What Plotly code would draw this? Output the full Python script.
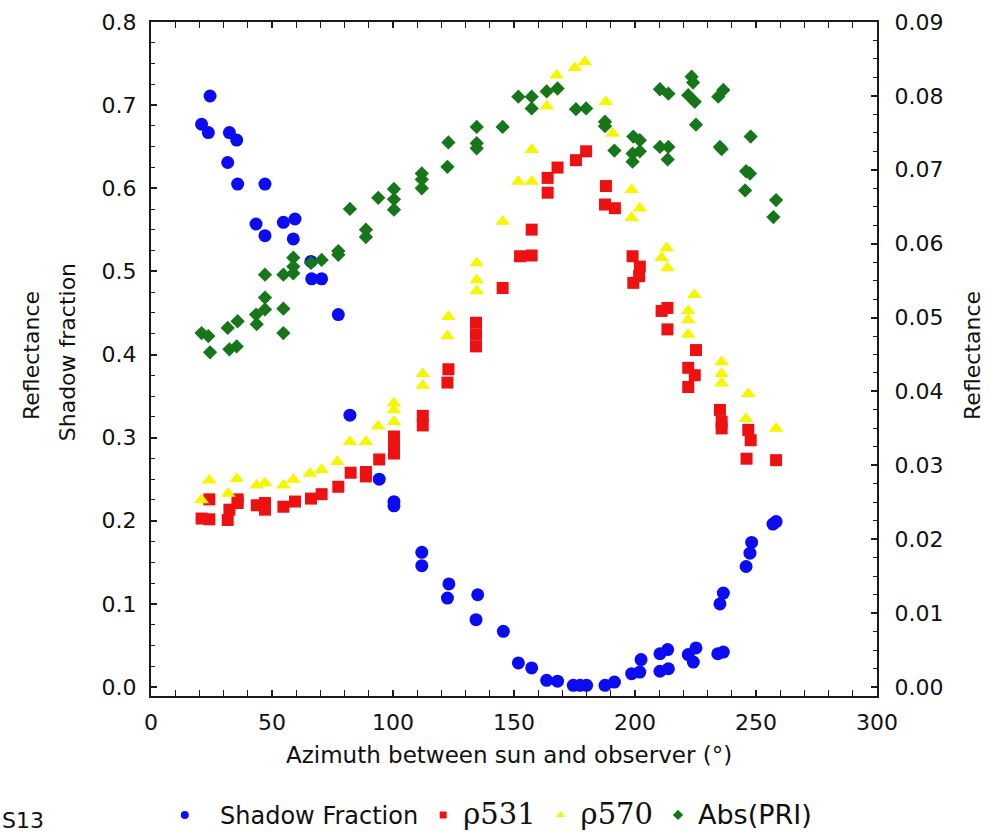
import plotly.graph_objects as go

# Shadow fraction (left axis) vs. sun-observer azimuth
shadow_az = [20.9, 23.7, 24.4, 31.7, 32.4, 35.4, 35.8, 43.4, 47.1, 47.1,
             54.7, 58.8, 59.5, 66.1, 66.4, 70.5, 77.4, 82.2, 94.3, 100.4,
             100.4, 111.9, 111.9, 122.5, 123.1, 134.3, 135.0, 145.6, 151.8, 157.3,
             163.5, 168.0, 174.5, 177.3, 180.0, 187.6, 191.5, 198.6, 202.0, 202.5,
             210.3, 210.3, 213.5, 213.8, 222.0, 224.1, 225.2, 234.2, 235.1, 236.5,
             236.5, 245.9, 247.5, 248.2, 257.0, 258.3]
shadow_frac = [0.677, 0.667, 0.711, 0.631, 0.667, 0.658, 0.605, 0.557, 0.605, 0.543,
               0.559, 0.539, 0.563, 0.512, 0.491, 0.491, 0.448, 0.327, 0.250, 0.223,
               0.218, 0.162, 0.146, 0.107, 0.124, 0.081, 0.111, 0.067, 0.029, 0.023,
               0.008, 0.007, 0.002, 0.002, 0.002, 0.002, 0.006, 0.016, 0.018, 0.033,
               0.019, 0.040, 0.045, 0.022, 0.039, 0.030, 0.047, 0.040, 0.100, 0.042,
               0.113, 0.145, 0.161, 0.174, 0.196, 0.199]

# Reflectance at 531 nm (right axis)
r531_az = [20.9, 24.1, 24.1, 31.7, 32.4, 35.8, 35.8, 43.7, 47.1, 47.1,
           54.7, 59.5, 66.1, 70.5, 77.4, 82.5, 88.8, 88.8, 94.3, 100.4,
           100.4, 100.4, 112.3, 112.3, 122.5, 122.9, 134.3, 134.3, 134.3, 145.3,
           152.5, 157.3, 157.3, 163.9, 163.9, 168.0, 175.6, 179.8, 187.6, 188.0,
           191.7, 199.0, 199.3, 201.7, 202.0, 211.0, 213.4, 213.4, 222.0, 222.0,
           224.7, 225.2, 235.1, 235.8, 235.8, 246.1, 246.8, 247.8, 258.3]
r531 = [0.0228, 0.0227, 0.0254, 0.0226, 0.0240, 0.0249, 0.0254, 0.0246, 0.0249, 0.0240,
        0.0244, 0.0251, 0.0255, 0.0261, 0.0271, 0.0290, 0.0291, 0.0285, 0.0308, 0.0339,
        0.0327, 0.0316, 0.0367, 0.0354, 0.0412, 0.0430, 0.0493, 0.0477, 0.0461, 0.0540,
        0.0583, 0.0584, 0.0619, 0.0689, 0.0669, 0.0703, 0.0713, 0.0725, 0.0653, 0.0678,
        0.0648, 0.0583, 0.0547, 0.0556, 0.0569, 0.0509, 0.0513, 0.0484, 0.0432, 0.0406,
        0.0422, 0.0456, 0.0375, 0.0359, 0.0350, 0.0309, 0.0348, 0.0334, 0.0307]

# Reflectance at 570 nm (right axis)
r570_az = [20.9, 24.1, 31.9, 35.4, 43.7, 47.1, 54.7, 58.8, 65.7, 70.5,
           77.0, 82.2, 88.8, 93.9, 100.4, 100.4, 100.4, 112.3, 112.3, 122.5,
           122.9, 134.6, 134.6, 134.6, 145.3, 151.8, 157.3, 157.3, 163.5, 163.5,
           167.6, 175.2, 179.3, 187.6, 188.0, 190.8, 198.6, 198.6, 202.0, 211.0,
           213.1, 213.4, 222.0, 222.0, 222.0, 224.5, 235.8, 235.8, 235.8, 245.9,
           246.8, 258.3]
r570 = [0.0253, 0.0280, 0.0262, 0.0282, 0.0273, 0.0276, 0.0273, 0.0281, 0.0289, 0.0294,
        0.0305, 0.0332, 0.0332, 0.0353, 0.0384, 0.0375, 0.0359, 0.0424, 0.0408, 0.0475,
        0.0501, 0.0574, 0.0551, 0.0536, 0.0630, 0.0684, 0.0684, 0.0727, 0.0786, 0.0808,
        0.0828, 0.0838, 0.0846, 0.0763, 0.0792, 0.0749, 0.0673, 0.0635, 0.0648, 0.0581,
        0.0594, 0.0567, 0.0509, 0.0497, 0.0477, 0.0531, 0.0440, 0.0424, 0.0411, 0.0363,
        0.0397, 0.0350]

# Absolute PRI (right axis)
pri_az = [20.9, 23.7, 24.4, 31.7, 32.4, 35.4, 35.8, 43.4, 43.7, 47.1,
          47.1, 47.1, 54.7, 54.7, 54.7, 58.8, 58.8, 58.8, 66.1, 70.5,
          77.4, 77.4, 82.2, 88.8, 88.8, 93.9, 100.4, 100.4, 100.4, 111.9,
          111.9, 111.9, 122.5, 122.9, 134.6, 134.6, 134.6, 145.3, 151.8, 157.3,
          157.3, 163.5, 168.0, 175.6, 179.8, 187.6, 187.6, 191.5, 199.0, 199.0,
          199.3, 202.0, 202.0, 210.3, 210.3, 213.5, 213.8, 213.8, 222.0, 223.4,
          224.0, 224.7, 225.2, 234.4, 235.1, 235.8, 236.5, 245.5, 245.9, 247.5,
          247.8, 257.2, 258.3]
abs_pri = [0.0479, 0.0475, 0.0453, 0.0486, 0.0457, 0.0461, 0.0495, 0.0504, 0.0491, 0.0527,
           0.0511, 0.0558, 0.0558, 0.0512, 0.0479, 0.0581, 0.0569, 0.0560, 0.0574, 0.0578,
           0.0590, 0.0585, 0.0647, 0.0619, 0.0609, 0.0662, 0.0674, 0.0660, 0.0646, 0.0695,
           0.0687, 0.0675, 0.0704, 0.0737, 0.0758, 0.0736, 0.0729, 0.0758, 0.0799, 0.0799,
           0.0783, 0.0806, 0.0810, 0.0782, 0.0783, 0.0765, 0.0759, 0.0726, 0.0722, 0.0711,
           0.0745, 0.0740, 0.0725, 0.0731, 0.0809, 0.0714, 0.0731, 0.0803, 0.0801, 0.0826,
           0.0818, 0.0792, 0.0761, 0.0799, 0.0731, 0.0728, 0.0808, 0.0672, 0.0698, 0.0695,
           0.0745, 0.0636, 0.0659]

BLUE = "#0c0cf2"
RED = "#ee1111"
YELLOW = "#f6f600"
GREEN = "#17761a"
FONT = "DejaVu Sans, Liberation Sans, Arial, sans-serif"
AXIS = "#1a1a1a"
TXT = "#111"

fig = go.Figure()

series = [
    (shadow_az, shadow_frac, "y", "circle", 13, BLUE),
    (r531_az, r531, "y2", "square", 12, RED),
    (r570_az, r570, "y2", "triangle-up", 13, YELLOW),
    (pri_az, abs_pri, "y2", "diamond", 11, GREEN),
]
for xs, ys, ax, sym, size, col in series:
    fig.add_trace(go.Scatter(
        x=xs, y=ys, yaxis=ax, mode="markers", showlegend=False,
        marker=dict(symbol=sym, size=size, color=col, line=dict(width=0)),
        hoverinfo="x+y"))

# legend entries with small symbols
NB = "\u00a0"
legend_items = [
    (NB * 2 + "Shadow Fraction", "circle", 8, BLUE),
    ('<span style="font-family:DejaVu Serif;font-size:29px">\u03c1531</span>',
     "square", 7, RED),
    ('<span style="font-family:DejaVu Serif;font-size:29px">\u03c1570</span>',
     "triangle-up", 8, YELLOW),
    ('<span style="font-size:27px">Abs(PRI)</span>', "diamond", 8, GREEN),
]
for name, sym, size, col in legend_items:
    fig.add_trace(go.Scatter(
        x=[None], y=[None], mode="markers", name=name,
        marker=dict(symbol=sym, size=size, color=col, line=dict(width=0))))

common = dict(showline=True, linecolor=AXIS, linewidth=2, showgrid=False,
              zeroline=False, ticks="inside", tickcolor=AXIS, tickwidth=1.5,
              ticklen=6, tickfont=dict(family=FONT, size=22, color=TXT))

ymax = 0.8
ymin = -0.0108
scale = 0.09 / 0.8

fig.update_layout(
    width=990, height=832,
    margin=dict(l=151, r=113, t=22, b=136, autoexpand=False),
    plot_bgcolor="white", paper_bgcolor="white",
    font=dict(family=FONT, color=TXT),
    xaxis=dict(range=[0, 300], dtick=50, tick0=0, mirror="allticks",
               ticklabelstandoff=6,
               minor=dict(dtick=10, ticks="inside", ticklen=4,
                          tickcolor=AXIS, tickwidth=1.2),
               **common),
    yaxis=dict(range=[ymin, ymax], dtick=0.1, tick0=0, tickformat=".1f",
               ticklabelstandoff=8,
               minor=dict(dtick=0.025, ticks="inside", ticklen=4,
                          tickcolor=AXIS, tickwidth=1.2),
               **common),
    yaxis2=dict(range=[ymin * scale, ymax * scale], dtick=0.01, tick0=0,
                tickformat=".2f", overlaying="y", side="right",
                ticklabelstandoff=11,
                minor=dict(dtick=0.0025, ticks="inside", ticklen=4,
                           tickcolor=AXIS, tickwidth=1.2),
                **common),
    legend=dict(orientation="h", x=0.019, xanchor="left", y=-0.177,
                yanchor="middle", font=dict(family=FONT, size=24, color=TXT),
                bgcolor="rgba(0,0,0,0)", itemclick=False, itemdoubleclick=False),
)

annotations = [
    dict(text="Azimuth between sun and observer (\u00b0)", x=0.4931, y=-0.0875,
         textangle=0, font_size=23),
    dict(text="Reflectance", x=-0.1639, y=0.5045, textangle=-90, font_size=22),
    dict(text="Shadow fraction", x=-0.1157, y=0.510, textangle=-90, font_size=22),
    dict(text="Reflectance", x=1.1322, y=0.506, textangle=-90, font_size=22),
]
for a in annotations:
    fig.add_annotation(xref="paper", yref="paper", showarrow=False,
                       xanchor="center", yanchor="middle",
                       font=dict(family=FONT, size=a.pop("font_size"), color=TXT),
                       **a)

fig.add_annotation(text="S13", xref="paper", yref="paper", x=-0.208, y=-0.184,
                   xanchor="left", yanchor="middle", showarrow=False,
                   font=dict(family=FONT, size=22, color=TXT))

fig.write_html("out.html")
